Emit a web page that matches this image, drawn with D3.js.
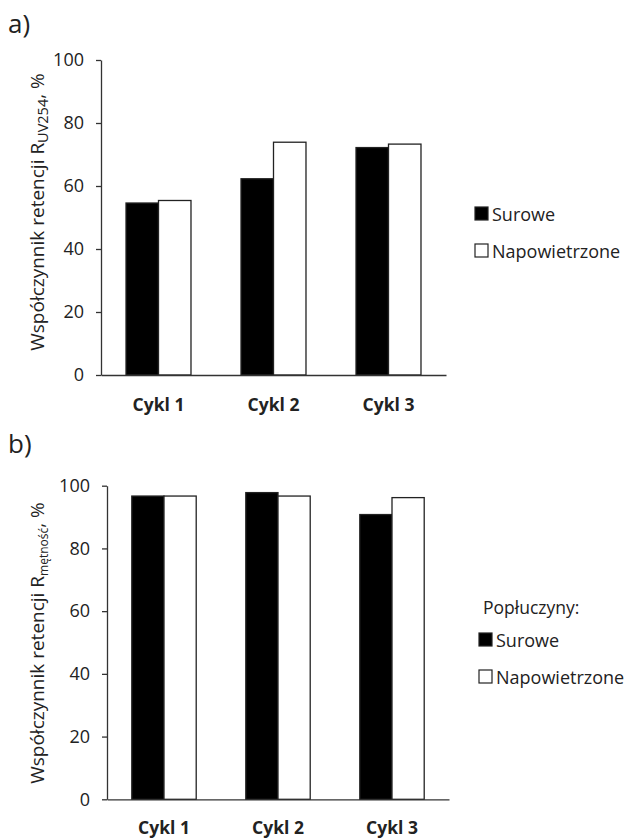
<!DOCTYPE html>
<html>
<head>
<meta charset="utf-8">
<script src="https://cdn.jsdelivr.net/npm/d3@7"></script>
<style>
  body { margin: 0; background: #fff; }
  svg, svg text { font-family: "Open Sans", sans-serif; }
  .axis path, .axis line { stroke: #333; stroke-width: 1.3; }
  .axis text { fill: #222; }
</style>
</head>
<body>
<div id="chart"></div>
<script>
// data
const categories = ["Cykl 1", "Cykl 2", "Cykl 3"];
const seriesNames = ["Surowe", "Napowietrzone"];
const seriesFill = ["#000", "#fff"];
const uvSurowe = [54.6, 62.3, 72.2];
const uvNapowietrzone = [55.4, 73.9, 73.3];
const turbSurowe = [96.7, 97.8, 90.8];
const turbNapowietrzone = [96.7, 96.7, 96.2];
const yTicks = [0, 20, 40, 60, 80, 100];

const svg = d3.select("#chart").append("svg")
    .attr("width", 628)
    .attr("height", 839);

function drawPanel(cfg) {
  let g = svg.append("g");
  let x = d3.scaleBand().domain(categories).range([cfg.left, cfg.right])
    .paddingInner(0.435).paddingOuter(0.2175);
  let xs = d3.scaleBand().domain(seriesNames).range([0, x.bandwidth()]);
  let y = d3.scaleLinear().domain([0, 100]).range([cfg.bottom, cfg.top]);

  let rows = categories.map((c, i) => ({cat: c, vals: [cfg.a[i], cfg.b[i]]}));

  g.selectAll(".grp").data(rows).enter().append("g")
      .attr("transform", d => "translate(" + x(d.cat) + ",0)")
    .selectAll("rect")
    .data(d => d.vals.map((v, j) => ({s: seriesNames[j], v: v, j: j})))
    .enter().append("rect")
      .attr("x", d => xs(d.s))
      .attr("y", d => y(d.v))
      .attr("width", xs.bandwidth())
      .attr("height", d => y(0) - y(d.v))
      .attr("fill", d => seriesFill[d.j])
      .attr("stroke", "#222")
      .attr("stroke-width", 1.3);

  // y axis
  g.append("g").attr("class", "axis")
      .attr("transform", "translate(" + cfg.left + ",0)")
      .call(d3.axisLeft(y).tickValues(yTicks).tickSize(5).tickSizeOuter(0).tickPadding(12))
      .attr("font-family", null)
      .selectAll("text").style("font-size", "18px");

  // x axis
  let xa = g.append("g").attr("class", "axis")
      .attr("transform", "translate(0," + cfg.bottom + ")")
      .call(d3.axisBottom(x).tickSize(0).tickSizeOuter(0).tickPadding(cfg.xPad))
      .attr("font-family", null);
  xa.selectAll("text").style("font-size", "17.5px").style("font-weight", "bold");

  // y label, centred by its measured length
  let lab = g.append("text")
      .attr("transform", "translate(" + cfg.labelX + "," + cfg.labelY + ") rotate(-90)")
      .style("font-size", "19px")
      .attr("fill", "#222");
  lab.append("tspan").text("Współczynnik retencji R");
  lab.append("tspan").attr("dy", 4).style("font-size", cfg.subSize).text(cfg.sub);
  lab.append("tspan").attr("dy", -4).text(", %");
  let bb = lab.node().getBBox();
  lab.attr("x", -bb.width / 2);

  // panel letter
  svg.append("text").attr("x", 8).attr("y", cfg.letterY)
      .style("font-size", "26px").attr("fill", "#222").text(cfg.letter);

  // legend
  let lg = svg.append("g").attr("transform", "translate(" + cfg.legX + "," + cfg.legY + ")");
  if (cfg.legTitle) {
    lg.append("text").attr("x", 4).attr("y", -19)
      .style("font-size", "17.5px").attr("fill", "#222").text(cfg.legTitle);
  }
  seriesNames.forEach((s, i) => {
    let r = lg.append("g").attr("transform", "translate(0," + i * 37 + ")");
    r.append("rect").attr("x", 0).attr("y", 0).attr("width", 13).attr("height", 13)
      .attr("fill", seriesFill[i]).attr("stroke", "#222").attr("stroke-width", 1.2);
    r.append("text").attr("x", 17).attr("y", 13.5)
      .style("font-size", "18px").attr("fill", "#222").text(s);
  });
}

drawPanel({
  left: 101, right: 446, top: 60, bottom: 375, xPad: 24,
  a: uvSurowe, b: uvNapowietrzone,
  sub: "UV254", subSize: "14.5px",
  labelX: 44, labelY: 212,
  letter: "a)", letterY: 33,
  legX: 475, legY: 207
});

drawPanel({
  left: 107, right: 449, top: 485.7, bottom: 799.3, xPad: 22,
  a: turbSurowe, b: turbNapowietrzone,
  sub: "mętność", subSize: "12px",
  labelX: 44, labelY: 643,
  letter: "b)", letterY: 453,
  legX: 479, legY: 633,
  legTitle: "Popłuczyny:"
});
</script>
</body>
</html>
